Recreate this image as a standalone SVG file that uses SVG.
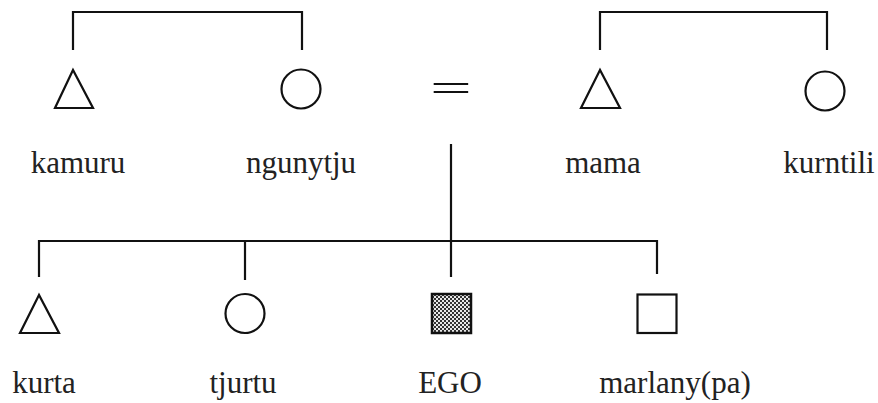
<svg xmlns="http://www.w3.org/2000/svg" width="878" height="403" viewBox="0 0 878 403">
<style>
.ln{stroke:#111;stroke-width:2.2;fill:none}
.sym{stroke:#111;stroke-width:2.2;fill:#fff}
.lbl{font-family:"Liberation Serif","Times New Roman",serif;font-size:31px;fill:#222;text-anchor:middle}
</style>
<defs>
<pattern id="dots" width="4" height="4" patternUnits="userSpaceOnUse">
<rect width="4" height="4" fill="#e8e8e8"/>
<rect width="2" height="2" fill="#333"/>
<rect x="2" y="2" width="2" height="2" fill="#333"/>
</pattern>
</defs>
<rect width="878" height="403" fill="#fff"/>
<g id="connectors">
<polyline class="ln" points="73,50 73,12 302,12 302,50"/>
<polyline class="ln" points="600,50 600,12 827,12 827,50"/>
<line class="ln" x1="451" y1="144" x2="451" y2="277"/>
<polyline class="ln" points="39,277 39,241 657,241 657,274"/>
<line class="ln" x1="245" y1="241" x2="245" y2="280"/>
</g>
<g id="marriage">
<text transform="translate(451,89) scale(1.09,0.55)" x="0" y="21" style="font-family:'Liberation Serif',serif;font-size:68px;fill:#111;text-anchor:middle">=</text>
</g>
<g id="kamuru">
<polygon class="sym" points="73,70 55,108 93,108"/>
<text class="lbl" x="78" y="173">kamuru</text>
</g>
<g id="ngunytju">
<circle class="sym" cx="301" cy="89" r="19.5"/>
<text class="lbl" x="301" y="173">ngunytju</text>
</g>
<g id="mama">
<polygon class="sym" points="600,70 581,108 620,108"/>
<text class="lbl" x="603" y="173">mama</text>
</g>
<g id="kurntili">
<circle class="sym" cx="825" cy="91" r="19.5"/>
<text class="lbl" x="829" y="173">kurntili</text>
</g>
<g id="kurta">
<polygon class="sym" points="39,295 20,333 59,333"/>
<text class="lbl" x="44" y="393">kurta</text>
</g>
<g id="tjurtu">
<circle class="sym" cx="245" cy="313.5" r="19.5"/>
<text class="lbl" x="243" y="393">tjurtu</text>
</g>
<g id="ego">
<rect x="432" y="294" width="39" height="39" style="fill:url(#dots);stroke:#111;stroke-width:2.5"/>
<text class="lbl" x="450" y="393">EGO</text>
</g>
<g id="marlany">
<rect class="sym" x="637.5" y="294.5" width="39" height="38.5"/>
<text class="lbl" x="675" y="393">marlany(pa)</text>
</g>
</svg>
